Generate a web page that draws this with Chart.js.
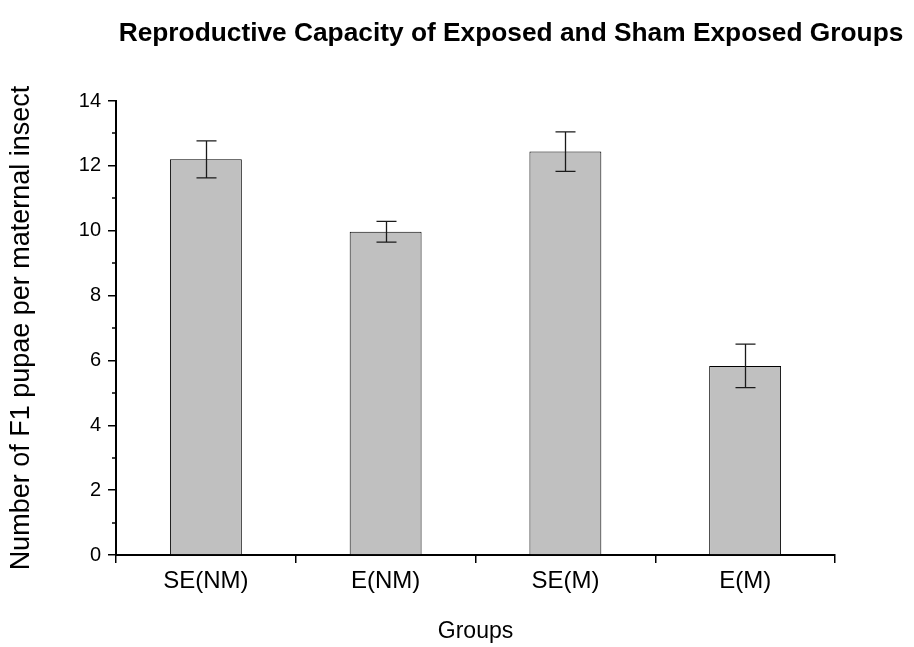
<!DOCTYPE html>
<html>
<head>
<meta charset="utf-8">
<script src="https://cdn.jsdelivr.net/npm/chart.js@4/dist/chart.umd.min.js"></script>
<style>
  html, body { margin: 0; padding: 0; background: #fff; }
  #wrap { width: 914px; height: 647px; position: relative; }
</style>
</head>
<body>
<div id="wrap"><canvas id="c" width="914" height="647"></canvas></div>
<script>
const chartTitle = 'Reproductive Capacity of Exposed and Sham Exposed Groups';
const categories = ['SE(NM)', 'E(NM)', 'SE(M)', 'E(M)'];
const meanValues = [12.2, 9.97, 12.44, 5.83];
const errorValues = [0.57, 0.32, 0.61, 0.67];
const yTickValues = [0, 2, 4, 6, 8, 10, 12, 14];
const xAxisTitle = 'Groups';
const yAxisTitle = 'Number of F1 pupae per maternal insect';

const FONT = "'Liberation Sans', Arial, sans-serif";
const CHART_LEFT = 116, CHART_BOTTOM = 555;

const errorBarPlugin = {
  id: 'errorBars',
  afterDatasetsDraw(chart) {
    const ctx = chart.ctx;
    const meta = chart.getDatasetMeta(0);
    const y = chart.scales.y;
    ctx.save();
    ctx.strokeStyle = '#1a1a1a';
    ctx.lineWidth = 1.3;
    meta.data.forEach((bar, i) => {
      const x = Math.round(bar.x) + 0.5;
      const top = y.getPixelForValue(meanValues[i] + errorValues[i]);
      const bot = y.getPixelForValue(meanValues[i] - errorValues[i]);
      ctx.beginPath();
      ctx.moveTo(x, top); ctx.lineTo(x, bot);
      ctx.moveTo(x - 10, top); ctx.lineTo(x + 10, top);
      ctx.moveTo(x - 10, bot); ctx.lineTo(x + 10, bot);
      ctx.stroke();
    });
    ctx.restore();
  }
};

const minorTickPlugin = {
  id: 'minorTicks',
  afterDraw(chart) {
    const ctx = chart.ctx;
    const y = chart.scales.y;
    ctx.save();
    ctx.strokeStyle = '#000';
    ctx.lineWidth = 1.5;
    for (let i = 0; i < yTickValues.length - 1; i++) {
      const v = (yTickValues[i] + yTickValues[i + 1]) / 2;
      const py = Math.round(y.getPixelForValue(v));
      ctx.beginPath();
      ctx.moveTo(chart.chartArea.left - 4, py);
      ctx.lineTo(chart.chartArea.left, py);
      ctx.stroke();
    }
    // title
    ctx.fillStyle = '#000';
    ctx.font = 'bold 26.3px ' + FONT;
    ctx.textAlign = 'center';
    ctx.textBaseline = 'middle';
    ctx.fillText(chartTitle, 511, 34);
    ctx.restore();
  }
};

new Chart(document.getElementById('c'), {
  type: 'bar',
  data: {
    labels: categories,
    datasets: [{
      data: meanValues,
      backgroundColor: '#c0c0c0',
      borderColor: '#000',
      borderWidth: 1,
      borderSkipped: 'bottom',
      barPercentage: 0.4,
      categoryPercentage: 1.0
    }]
  },
  options: {
    responsive: false,
    animation: false,
    devicePixelRatio: 1,
    layout: { padding: { top: 101, right: 79, left: 0, bottom: 0 } },
    plugins: {
      legend: { display: false },
      tooltip: { enabled: false },
      title: { display: false }
    },
    scales: {
      x: {
        grid: { display: true, drawOnChartArea: false, drawTicks: true, tickLength: 8, color: '#000', lineWidth: 1.5, offset: true },
        border: { display: true, color: '#000', width: 2 },
        ticks: { color: '#000', font: { family: FONT, size: 24 }, padding: 4 },
        title: { display: true, text: xAxisTitle, color: '#000', font: { family: FONT, size: 23 }, padding: { top: 4, bottom: 2 } },
        afterFit(scale) { scale.height = 647 - CHART_BOTTOM; }
      },
      y: {
        min: 0, max: 14,
        afterBuildTicks(scale) { scale.ticks = yTickValues.map(v => ({ value: v })); },
        grid: { display: true, drawOnChartArea: false, drawTicks: true, tickLength: 8, color: '#000', lineWidth: 1.5 },
        border: { display: true, color: '#000', width: 2 },
        ticks: { color: '#000', font: { family: FONT, size: 20 }, padding: 7 },
        title: { display: true, text: yAxisTitle, color: '#000', font: { family: FONT, size: 27 }, padding: { top: 5, bottom: 0 } },
        afterFit(scale) { scale.width = CHART_LEFT; }
      }
    }
  },
  plugins: [errorBarPlugin, minorTickPlugin]
});
</script>
</body>
</html>
